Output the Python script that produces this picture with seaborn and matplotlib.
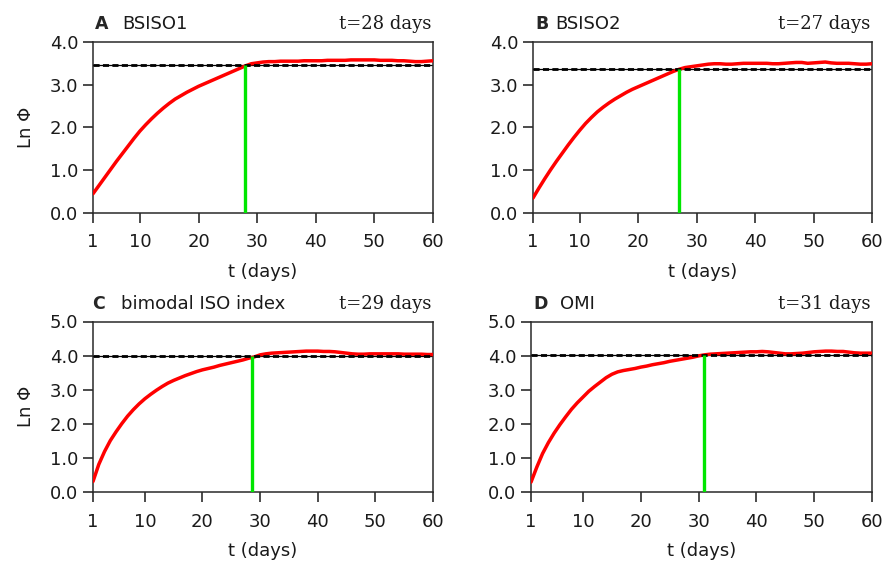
import numpy as np
import pandas as pd
import matplotlib
matplotlib.use("Agg")
import matplotlib.pyplot as plt
import seaborn as sns

# days for panels A/B start at 2 (axis left edge labelled "1"), C/D start at 1
days_ab = np.arange(2, 61)
days_cd = np.arange(1, 61)

bsiso1 = [0.44, 0.63, 0.82, 1.01, 1.20, 1.38, 1.56, 1.74, 1.91, 2.06,
          2.20, 2.33, 2.45, 2.56, 2.66, 2.74, 2.82, 2.89, 2.96, 3.02,
          3.08, 3.14, 3.20, 3.26, 3.32, 3.38, 3.44, 3.49, 3.51, 3.53,
          3.54, 3.54, 3.55, 3.55, 3.55, 3.55, 3.56, 3.56, 3.56, 3.56,
          3.57, 3.57, 3.57, 3.57, 3.58, 3.58, 3.58, 3.58, 3.58, 3.57,
          3.57, 3.57, 3.56, 3.56, 3.55, 3.54, 3.54, 3.55, 3.56]

bsiso2 = [0.34, 0.57, 0.79, 1.00, 1.20, 1.39, 1.58, 1.76, 1.93, 2.09,
          2.23, 2.36, 2.47, 2.57, 2.66, 2.74, 2.82, 2.89, 2.95, 3.01,
          3.07, 3.13, 3.19, 3.25, 3.31, 3.36, 3.40, 3.42, 3.44, 3.46,
          3.48, 3.49, 3.49, 3.48, 3.48, 3.49, 3.50, 3.50, 3.50, 3.50,
          3.50, 3.49, 3.49, 3.50, 3.51, 3.52, 3.52, 3.50, 3.51, 3.52,
          3.53, 3.51, 3.50, 3.50, 3.50, 3.49, 3.48, 3.48, 3.49]

bimodal = [0.30, 0.80, 1.18, 1.50, 1.76, 2.00, 2.22, 2.41, 2.58, 2.73,
           2.86, 2.98, 3.09, 3.19, 3.27, 3.34, 3.41, 3.47, 3.53, 3.58,
           3.62, 3.66, 3.71, 3.75, 3.79, 3.83, 3.87, 3.92, 3.96, 4.02,
           4.05, 4.07, 4.08, 4.09, 4.10, 4.11, 4.12, 4.13, 4.13, 4.13,
           4.12, 4.12, 4.11, 4.09, 4.07, 4.05, 4.04, 4.04, 4.05, 4.05,
           4.05, 4.05, 4.05, 4.05, 4.04, 4.04, 4.04, 4.04, 4.03, 4.03]

omi = [0.28, 0.72, 1.12, 1.44, 1.72, 1.97, 2.20, 2.42, 2.61, 2.78,
       2.95, 3.09, 3.22, 3.35, 3.45, 3.52, 3.56, 3.59, 3.62, 3.66,
       3.69, 3.73, 3.76, 3.79, 3.83, 3.86, 3.89, 3.92, 3.95, 3.99,
       4.02, 4.04, 4.05, 4.06, 4.07, 4.08, 4.09, 4.10, 4.11, 4.11,
       4.12, 4.11, 4.09, 4.07, 4.05, 4.05, 4.06, 4.07, 4.09, 4.11,
       4.12, 4.13, 4.13, 4.12, 4.12, 4.10, 4.08, 4.07, 4.07, 4.07]

letters = ["A", "B", "C", "D"]
names = ["BSISO1", "BSISO2", "bimodal ISO index", "OMI"]
t_labels = ["t=28 days", "t=27 days", "t=29 days", "t=31 days"]
t_cross = [28, 27, 28.6, 31]
levels = [3.47, 3.37, 3.98, 4.03]
ymax = [4.0, 4.0, 5.0, 5.0]
series = [bsiso1, bsiso2, bimodal, omi]
day_sets = [days_ab, days_ab, days_cd, days_cd]
xstart = [2, 2, 1, 1]

sns.set_theme(style="ticks")
plt.rcParams["font.family"] = ["DejaVu Sans"]

fig = plt.figure(figsize=(8.85, 5.61), dpi=100)
W, H = 885, 561
# pixel boxes: left, right, top, bottom
boxes = [(93, 433, 42, 212.5), (533, 872, 42, 212.5),
         (93, 433, 321.5, 491.7), (531, 872, 321.5, 491.7)]
name_off = [0.085, 0.065, 0.082, 0.085]
letter_x = [0.006, 0.006, -0.003, 0.006]

for i in range(4):
    l, r, t, b = boxes[i]
    ax = fig.add_axes([l / W, (H - b) / H, (r - l) / W, (b - t) / H])
    df = pd.DataFrame({"t": day_sets[i], "lnphi": series[i]})

    ax.axhline(levels[i], color="black", lw=0.9, zorder=2)
    sns.lineplot(data=df, x="t", y="lnphi", ax=ax, color="red", lw=2.5, zorder=3)
    ax.axhline(levels[i], color="black", lw=2.0, dashes=(2.2, 1.2), zorder=4)
    ax.vlines(t_cross[i], 0, levels[i], color="#00e600", lw=2.4, zorder=5)

    ax.set_xlim(xstart[i], 60)
    ax.set_ylim(0, ymax[i])
    ax.set_xticks([xstart[i], 10, 20, 30, 40, 50, 60])
    ax.set_xticklabels(["1", "10", "20", "30", "40", "50", "60"])
    yt = np.arange(0, ymax[i] + 0.5, 1.0)
    ax.set_yticks(yt)
    ax.set_yticklabels([f"{v:.1f}" for v in yt])
    ax.tick_params(axis="both", direction="out", length=7, width=1.1,
                   labelsize=13, colors="#1a1a1a")
    ax.tick_params(axis="x", pad=8)
    ax.tick_params(axis="y", pad=3.5)
    for sp in ax.spines.values():
        sp.set_linewidth(1.1)
        sp.set_color("#2a2a2a")

    ax.set_xlabel("t (days)", fontsize=13, color="#1a1a1a")
    ax.xaxis.set_label_coords(0.5, -0.295)
    if i in (0, 2):
        ax.set_ylabel("Ln \u03a6", fontsize=13, color="#1a1a1a")
        ax.yaxis.set_label_coords(-0.17, 0.5)
    else:
        ax.set_ylabel("")

    ax.text(letter_x[i], 1.105, letters[i], transform=ax.transAxes,
            fontsize=12.5, fontweight="bold", ha="left", va="center")
    ax.text(name_off[i], 1.105, names[i], transform=ax.transAxes,
            fontsize=13, ha="left", va="center", color="#1a1a1a")
    ax.text(0.995, 1.105, t_labels[i], transform=ax.transAxes,
            fontsize=13, ha="right", va="center", color="#1a1a1a",
            family=["DejaVu Serif"])

fig.savefig("out.png", dpi=100)
